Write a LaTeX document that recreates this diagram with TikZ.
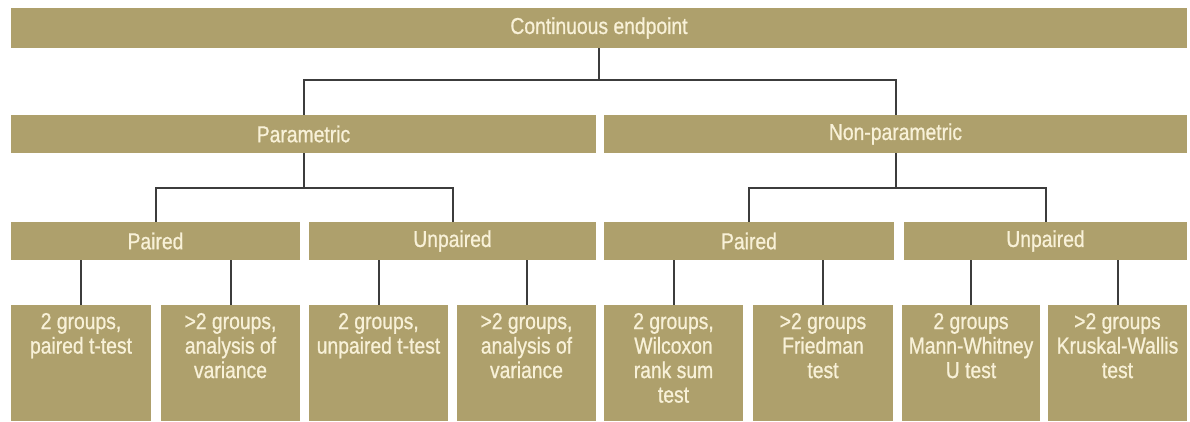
\documentclass[tikz,border=0pt]{standalone}
\usepackage{fontspec}
\setmainfont{Liberation Sans}[FakeStretch=0.84, FakeBold=0.8]
\usetikzlibrary{positioning}
\definecolor{barfill}{HTML}{AEA06C}
\definecolor{bartext}{HTML}{F8F1D8}
\definecolor{linkgray}{HTML}{3C3C3C}

\begin{document}
\begin{tikzpicture}[x=1pt, y=-1pt,
    every node/.style={inner sep=0pt, outer sep=0pt, text=bartext, font=\fontsize{23}{24.5}\selectfont},
    bar/.style={fill=barfill, minimum height=38pt},
    leaf/.style={fill=barfill, anchor=north, minimum height=116pt},
    leaftext/.style={anchor=north, align=center, yshift=-8pt},
    link/.style={draw=linkgray, line width=2pt}]

        \useasboundingbox (0,0) rectangle (1190,421);

        % Endpoint type
        \node (root) [bar, minimum width=1176pt, minimum height=40pt] at (599,28) {Continuous endpoint};

        % Parametric or not
        \node (par) [bar, minimum width=585pt] at (303.5,134) {Parametric};
        \node (npar) [bar, minimum width=583pt] at (895.5,134) {Non-parametric};

        % Paired or unpaired data
        \node (ppair) [bar, minimum width=289pt] at (155.5,241) {Paired};
        \node (punp) [bar, minimum width=287pt] at (452.5,241) {Unpaired};
        \node (npair) [bar, minimum width=290pt] at (749,241) {Paired};
        \node (nunp) [bar, minimum width=283pt] at (1045.5,241) {Unpaired};

        % Tests
        \node (b1) [leaf, minimum width=140pt] at (81,305) {};
        \node (b2) [leaf, minimum width=139pt] at (230.5,305) {};
        \node (b3) [leaf, minimum width=139pt] at (378.5,305) {};
        \node (b4) [leaf, minimum width=139pt] at (526.5,305) {};
        \node (b5) [leaf, minimum width=139pt] at (673.5,305) {};
        \node (b6) [leaf, minimum width=140pt] at (823,305) {};
        \node (b7) [leaf, minimum width=138pt] at (971,305) {};
        \node (b8) [leaf, minimum width=139pt] at (1117.5,305) {};

        \node (t1) [leaftext] at (b1.north) {2 groups,\\paired t-test};
        \node (t2) [leaftext] at (b2.north) {>2 groups,\\analysis of\\variance};
        \node (t3) [leaftext] at (b3.north) {2 groups,\\unpaired t-test};
        \node (t4) [leaftext] at (b4.north) {>2 groups,\\analysis of\\variance};
        \node (t5) [leaftext] at (b5.north) {2 groups,\\Wilcoxon\\rank sum\\test};
        \node (t6) [leaftext] at (b6.north) {>2 groups\\Friedman\\test};
        \node (t7) [leaftext] at (b7.north) {2 groups\\Mann-Whitney\\U test};
        \node (t8) [leaftext] at (b8.north) {>2 groups\\Kruskal-Wallis\\test};

        % Branches
        \draw[link] (root.south) -- ++(0,32) -| (par.north);
        \draw[link] (root.south) -- ++(0,32) -| (npar.north);
        \draw[link] (par.south) -- ++(0,35) -| (ppair.north);
        \draw[link] (par.south) -- ++(0,35) -| (punp.north);
        \draw[link] (npar.south) -- ++(0,35) -| (npair.north);
        \draw[link] (npar.south) -- ++(0,35) -| (nunp.north);

        \draw[link] (b1.north |- ppair.south) -- (b1.north);
        \draw[link] (b2.north |- ppair.south) -- (b2.north);
        \draw[link] (b3.north |- punp.south) -- (b3.north);
        \draw[link] (b4.north |- punp.south) -- (b4.north);
        \draw[link] (b5.north |- npair.south) -- (b5.north);
        \draw[link] (b6.north |- npair.south) -- (b6.north);
        \draw[link] (b7.north |- nunp.south) -- (b7.north);
        \draw[link] (b8.north |- nunp.south) -- (b8.north);
      \end{tikzpicture}
\end{document}
